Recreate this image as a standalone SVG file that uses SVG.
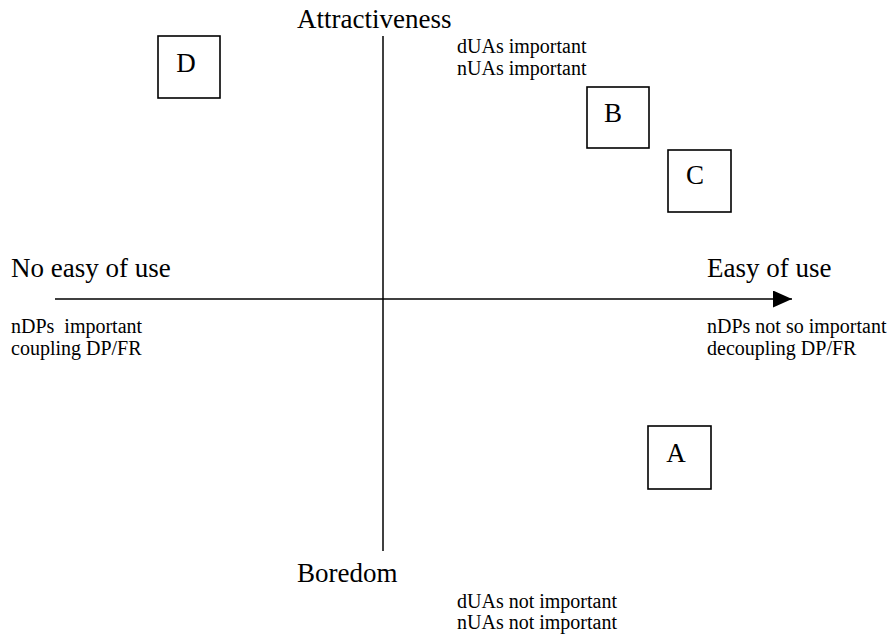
<svg xmlns="http://www.w3.org/2000/svg" width="893" height="635" viewBox="0 0 893 635">
<style>
text{font-family:"Liberation Serif","Times New Roman",serif;fill:#000}
.big{font-size:27px}
.sm{font-size:20px}
.box rect{fill:#fff;stroke:#000;stroke-width:1.6}
.box text{font-size:27px;text-anchor:middle}
.ax{stroke:#000;stroke-width:1.5;fill:none}
</style>
<defs>
<marker id="ah" markerWidth="19" markerHeight="17" refX="19" refY="8.5" orient="auto" markerUnits="userSpaceOnUse" viewBox="0 0 19 17">
<path d="M0,0 L19,8.5 L0,17 Z" fill="#000"/>
</marker>
</defs>
<g id="connectors">
<line class="ax" x1="383" y1="36" x2="383" y2="551"/>
<line class="ax" x1="55" y1="299" x2="792" y2="299" marker-end="url(#ah)"/>
</g>
<g id="labels">
<text class="big" x="297" y="28">Attractiveness</text>
<text class="sm" x="457" y="53">dUAs important</text>
<text class="sm" x="457" y="75">nUAs important</text>
<text class="big" x="11" y="277">No easy of use</text>
<text class="big" x="707" y="277">Easy of use</text>
<text class="sm" x="11" y="333" xml:space="preserve">nDPs  important</text>
<text class="sm" x="11" y="355">coupling DP/FR</text>
<text class="sm" x="707" y="333">nDPs not so important</text>
<text class="sm" x="707" y="355">decoupling DP/FR</text>
<text class="big" x="297" y="582">Boredom</text>
<text class="sm" x="457" y="608">dUAs not important</text>
<text class="sm" x="457" y="629">nUAs not important</text>
</g>
<g id="D" class="box"><rect x="158" y="36" width="62" height="62"/><text x="186" y="72">D</text></g>
<g id="B" class="box"><rect x="587" y="87" width="62" height="61"/><text x="613" y="122">B</text></g>
<g id="C" class="box"><rect x="668" y="150" width="63" height="62"/><text x="695" y="184">C</text></g>
<g id="A" class="box"><rect x="648" y="426" width="63" height="63"/><text x="676" y="462">A</text></g>
</svg>
